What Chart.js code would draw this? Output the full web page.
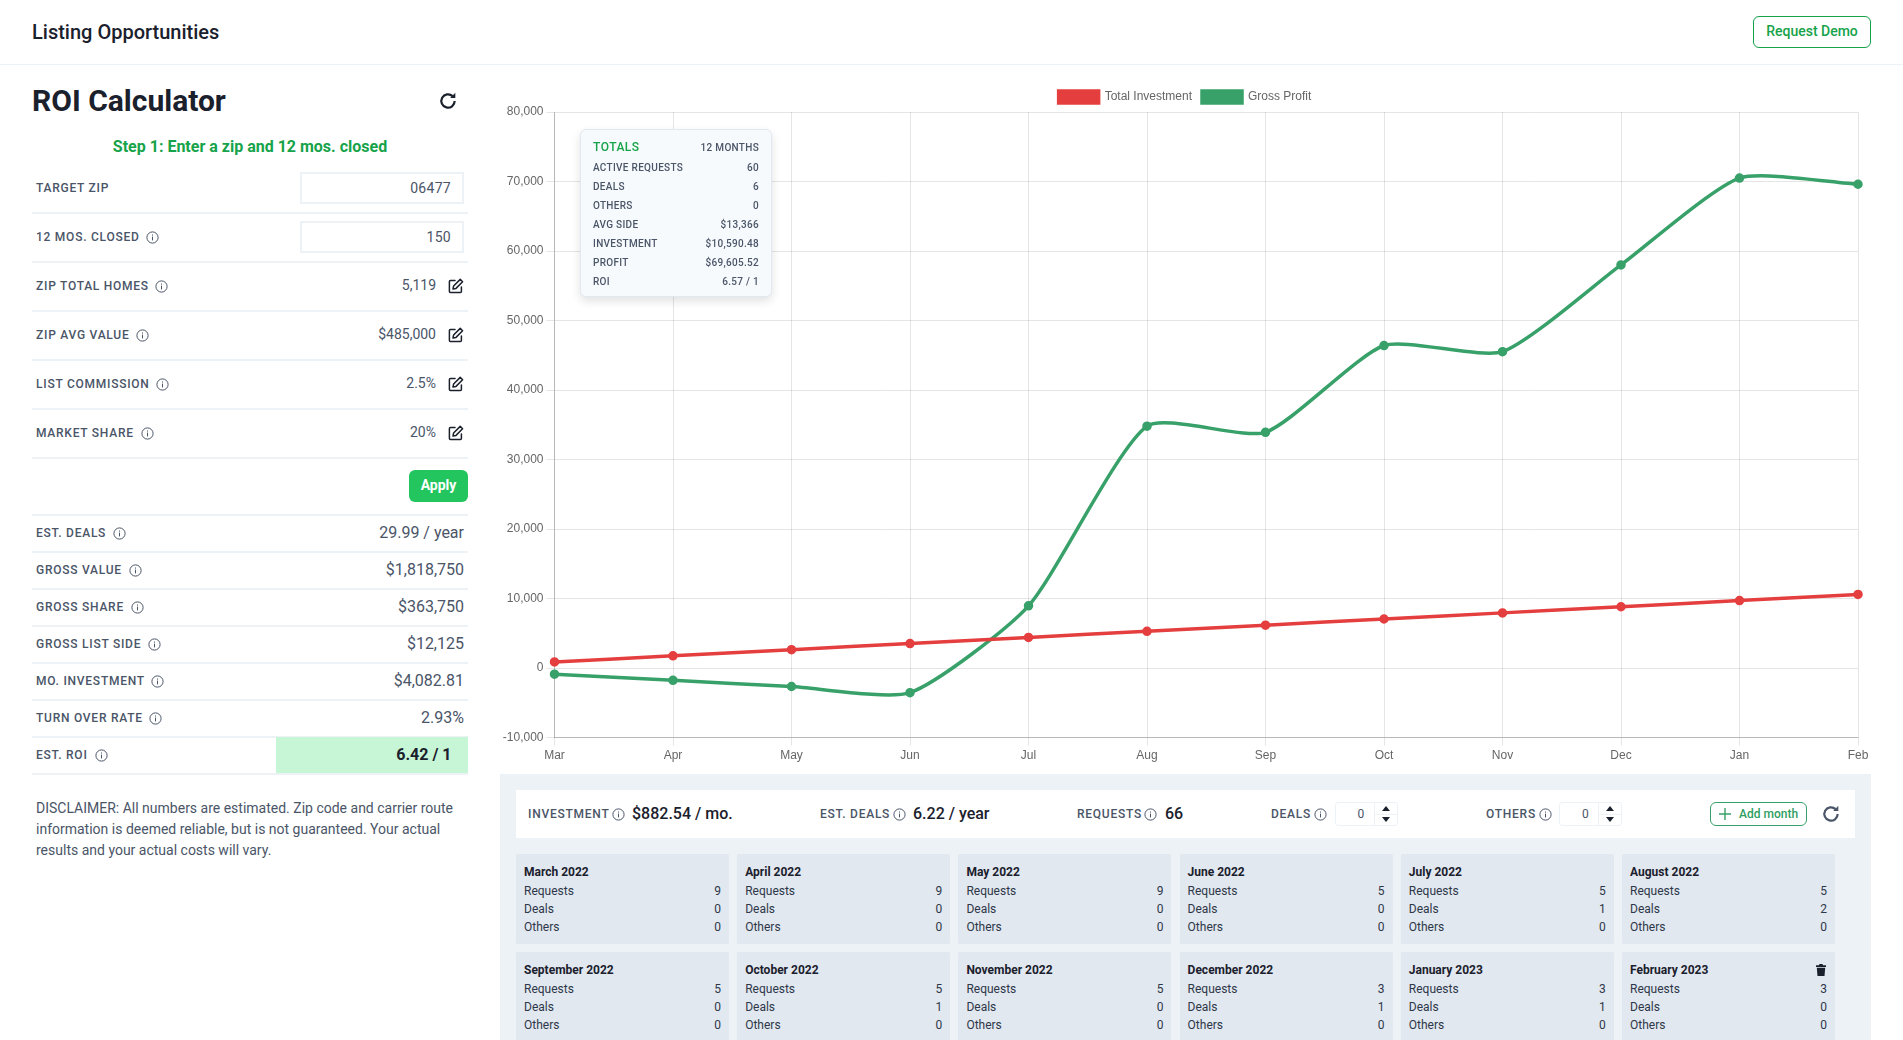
<!DOCTYPE html>
<html><head><meta charset="utf-8"><title>Listing Opportunities</title>
<script src="https://cdn.jsdelivr.net/npm/chart.js@4"></script>
<style>
html,body{margin:0;padding:0;background:#fff;width:1903px;height:1040px;overflow:hidden;font-family:Roboto,sans-serif;color:#4a5568}
.a{position:absolute;white-space:nowrap;line-height:1}
.ctr{transform:translateY(-50%)}
.lab{font-size:12px;font-weight:500;letter-spacing:.75px;color:#4a5568}
.sep{position:absolute;height:1.5px;background:#edf2f7}
.input{position:absolute;box-sizing:border-box;border:2px solid #edf2f7;background:#fff;left:300px;width:164px;height:32px;font-size:14px;color:#4a5568;text-align:right;padding:6px 11px 0 0;letter-spacing:.3px}
svg{position:absolute;display:block}
.card{position:absolute;width:213px;background:#e2e8f0;border-radius:2px;height:90px}
.spin{position:absolute;box-sizing:border-box;width:63px;height:24px;top:802px;border:1px solid #edf2f7;border-radius:3px;background:#fff}
</style></head><body>
<div id="ui"></div>
<div style="position:absolute;left:500px;top:80px;width:1383px;height:686px"><canvas id="c" role="img" aria-label="ROI line chart"></canvas></div>
<div id="ui2"></div>
<script>
const months=["Mar","Apr","May","Jun","Jul","Aug","Sep","Oct","Nov","Dec","Jan","Feb"];
const totalInvestment=[883,1765,2648,3530,4413,5295,6178,7060,7943,8825,9708,10590];
const grossProfit=[-883,-1765,-2648,-3530,8953,34803,33920,46404,45521,58005,70488,69606];
const cardMonths=["March 2022","April 2022","May 2022","June 2022","July 2022","August 2022","September 2022","October 2022","November 2022","December 2022","January 2023","February 2023"];
const cardRequests=[9,9,9,5,5,5,5,5,5,3,3,3];
const cardDeals=[0,0,0,0,1,2,0,1,0,1,1,0];
const cardOthers=[0,0,0,0,0,0,0,0,0,0,0,0];
const inputRows=[["TARGET ZIP","06477",false],["12 MOS. CLOSED","150",true]];
const editRows=[["ZIP TOTAL HOMES","5,119"],["ZIP AVG VALUE","$485,000"],["LIST COMMISSION","2.5%"],["MARKET SHARE","20%"]];
const resultRows=[["EST. DEALS","29.99 / year"],["GROSS VALUE","$1,818,750"],["GROSS SHARE","$363,750"],["GROSS LIST SIDE","$12,125"],["MO. INVESTMENT","$4,082.81"],["TURN OVER RATE","2.93%"]];
const totalsRows=[["ACTIVE REQUESTS","60"],["DEALS","6"],["OTHERS","0"],["AVG SIDE","$13,366"],["INVESTMENT","$10,590.48"],["PROFIT","$69,605.52"],["ROI","6.57 / 1"]];

let h='';
const info=(x,y)=>`<svg style="left:${x-6.5}px;top:${y-6.5}px" width="13" height="13" viewBox="0 0 13 13"><circle cx="6.5" cy="6.5" r="5.6" fill="none" stroke="#4a5568" stroke-width="1"/><rect x="6" y="5.6" width="1" height="3.8" fill="#4a5568"/><rect x="6" y="3.5" width="1" height="1.1" fill="#4a5568"/></svg>`;
const edit=(x,y)=>`<svg style="left:${x-8}px;top:${y-8}px" width="16" height="16" viewBox="0 0 16 16" fill="none" stroke="#1a202c" stroke-width="1.5" stroke-linejoin="round" stroke-linecap="round"><path d="M7 2.6H2.4a1 1 0 0 0-1 1v10a1 1 0 0 0 1 1h10a1 1 0 0 0 1-1V9"/><path d="M12.2 1.4l2.4 2.4-6.6 6.6-3 .6.6-3z"/></svg>`;
const refresh=(x,y,s,c)=>`<svg style="left:${x-s/2}px;top:${y-s/2}px" width="${s}" height="${s}" viewBox="0 0 18 18" fill="none" stroke="${c}" stroke-width="2"><path d="M15 9a6 6 0 1 1-1.9-4.4"/><path d="M15.6 1.6v4.6H11z" fill="${c}" stroke="none"/></svg>`;
const lab=(t,x,y)=>`<div class="a ctr lab" style="left:${x}px;top:${y}px">${t}</div>`;
const sep=(y)=>`<div class="sep" style="left:32px;width:436px;top:${y}px"></div>`;
const right=(t,r,y,st)=>`<div class="a ctr" style="right:${1903-r}px;top:${y}px;${st}">${t}</div>`;

// header
h+=`<div class="a ctr" style="left:32px;top:32px;font-size:20px;font-weight:500;color:#1a202c">Listing Opportunities</div>`;
h+=`<div style="position:absolute;left:0;right:0;top:64px;height:1px;background:#edf2f7"></div>`;
h+=`<div class="a" style="box-sizing:border-box;left:1753px;top:16px;width:118px;height:32px;border:1px solid #16a34a;border-radius:6px;text-align:center;line-height:29px;font-size:14px;font-weight:500;color:#16a34a">Request Demo</div>`;
// left
h+=`<div class="a ctr" style="left:32px;top:101px;font-size:30px;font-weight:700;color:#1a202c">ROI Calculator</div>`;
h+=refresh(448,101,20,'#1a202c');
h+=`<div class="a ctr" style="left:32px;width:436px;text-align:center;top:147px;font-size:16px;font-weight:700;color:#16a34a">Step 1: Enter a zip and 12 mos. closed</div>`;
const infoOff={"12 MOS. CLOSED":152,"ZIP TOTAL HOMES":161,"ZIP AVG VALUE":142,"LIST COMMISSION":162,"MARKET SHARE":147,"EST. DEALS":119,"GROSS VALUE":135,"GROSS SHARE":137,"GROSS LIST SIDE":154,"MO. INVESTMENT":157,"TURN OVER RATE":155,"EST. ROI":101};
inputRows.forEach((r,i)=>{const y=188+i*49;
 h+=lab(r[0],36,y);
 if(r[2])h+=info(infoOff[r[0]],y);
 h+=`<div class="input" style="top:${172+i*49}px">${r[1]}</div>`;
 h+=sep(212+i*49);
});
editRows.forEach((r,i)=>{const y=286+i*49;
 h+=lab(r[0],36,y);h+=info(infoOff[r[0]],y);
 h+=right(r[1],436,y-1,'font-size:14px;color:#4a5568');
 h+=edit(456,y);
 h+=sep(310+i*49);
});
h+=`<div class="a" style="left:409px;top:470px;width:59px;height:32px;border-radius:6px;background:#22c55e;color:#fff;font-size:14px;font-weight:700;text-align:center;line-height:30px">Apply</div>`;
h+=sep(514);
resultRows.forEach((r,i)=>{const y=533+i*37;
 h+=lab(r[0],36,y);h+=info(infoOff[r[0]],y);
 h+=right(r[1],464,y,'font-size:16px;color:#4a5568');
 h+=sep(551+i*37);
});
h+=`<div style="position:absolute;left:276px;width:192px;top:737px;height:36px;background:#c6f6d5"></div>`;
h+=lab("EST. ROI",36,755);h+=info(101,755);
h+=right("6.42 / 1",451.5,755,'font-size:16px;font-weight:700;color:#1a202c');
h+=sep(773);
h+=`<div style="position:absolute;left:36px;top:798px;width:430px;font-size:14px;line-height:21px;color:#4a5568">DISCLAIMER: All numbers are estimated. Zip code and carrier route<br>information is deemed reliable, but is not guaranteed. Your actual<br>results and your actual costs will vary.</div>`;
// bottom panel
h+=`<div style="position:absolute;left:500px;top:774px;width:1371px;height:266px;background:#edf2f7"></div>`;
h+=`<div style="position:absolute;left:516px;top:790px;width:1339px;height:48px;background:#fff"></div>`;
const bl=(t,x)=>`<div class="a ctr" style="left:${x}px;top:814px;font-size:12px;font-weight:500;letter-spacing:.75px;color:#4a5568">${t}</div>`;
const bv=(t,x)=>`<div class="a ctr" style="left:${x}px;top:814px;font-size:16px;font-weight:500;color:#1a202c">${t}</div>`;
h+=bl("INVESTMENT",528)+info(618,814)+bv("$882.54 / mo.",632);
h+=bl("EST. DEALS",820)+info(899,814)+bv("6.22 / year",913);
h+=bl("REQUESTS",1077)+info(1150.5,814)+bv("66",1165);
const spin=(x)=>`<div class="spin" style="left:${x}px"></div><div class="a ctr" style="left:${x+23}px;top:814px;font-size:12px;color:#4a5568">0</div><div style="position:absolute;left:${x+39}px;top:802px;width:1px;height:24px;background:#edf2f7"></div><div style="position:absolute;left:${x+39}px;top:814px;width:24px;height:1px;background:#edf2f7"></div><svg style="left:${x+45}px;top:804px" width="12" height="20" viewBox="0 0 12 20" fill="#1a202c"><path d="M6 2l4 5H2z"/><path d="M6 18l4-5H2z"/></svg>`;
h+=bl("DEALS",1271)+info(1320,814)+spin(1334.5);
h+=bl("OTHERS",1486)+info(1545,814)+spin(1559);
h+=`<div class="a" style="box-sizing:border-box;left:1710px;top:802px;width:97px;height:24px;border:1px solid #38a169;border-radius:6px;background:#fff"></div>`;
h+=`<svg style="left:1719px;top:808px" width="12" height="12" viewBox="0 0 12 12" stroke="#38a169" stroke-width="1.4"><path d="M6 0v12M0 6h12"/></svg>`;
h+=`<div class="a ctr" style="left:1739px;top:814px;font-size:12px;font-weight:500;color:#2f9e63">Add month</div>`;
h+=refresh(1831,814,20,'#4a5568');
// month cards
cardMonths.forEach((m,i)=>{
 const col=i%6,row=Math.floor(i/6);
 const x=516+col*221.2,y=854+row*98;
 h+=`<div class="card" style="left:${x}px;top:${y}px"></div>`;
 h+=`<div class="a ctr" style="left:${x+8}px;top:${y+18}px;font-size:12px;font-weight:700;color:#1a202c">${m}</div>`;
 [["Requests",cardRequests[i]],["Deals",cardDeals[i]],["Others",cardOthers[i]]].forEach((p,j)=>{
  const yy=y+37+j*18;
  h+=`<div class="a ctr" style="left:${x+8}px;top:${yy}px;font-size:12px;color:#2d3748">${p[0]}</div>`;
  h+=`<div class="a ctr" style="left:${x+150}px;width:${213-158}px;text-align:right;top:${yy}px;font-size:12px;color:#2d3748">${p[1]}</div>`;
 });
 if(i===11)h+=`<svg style="left:${x+193}px;top:${y+12}px" width="12" height="12" viewBox="0 0 12 12" fill="#1a202c"><path d="M4.5 0h3l.5 1.2H11V3H1V1.2h3zM1.8 3.8h8.4L9.5 12h-7z"/></svg>`;
});
document.getElementById('ui').innerHTML=h;

// totals overlay
let t=`<div style="position:absolute;box-sizing:border-box;left:580px;top:129px;width:192px;height:168px;background:#f7fafc;border:1px solid #e2e8f0;border-radius:6px;box-shadow:0 4px 10px rgba(0,0,0,.12)"></div>`;
t+=`<div class="a ctr" style="left:593px;top:147px;font-size:12px;font-weight:500;letter-spacing:.5px;color:#16a34a">TOTALS</div>`;
t+=right("12 MONTHS",759,148,'font-size:10px;font-weight:500;letter-spacing:.3px;color:#4a5568');
totalsRows.forEach((r,i)=>{const y=167.5+i*19;
 t+=`<div class="a ctr" style="left:593px;top:${y}px;font-size:10px;font-weight:500;letter-spacing:.3px;color:#4a5568">${r[0]}</div>`;
 t+=right(r[1],759,y,'font-size:10px;font-weight:500;letter-spacing:.3px;color:#4a5568');
});
document.getElementById('ui2').innerHTML=t;

const tickFont={family:"'Liberation Sans',Arial,sans-serif",size:12};
const nudgeLegend={id:'nudgeLegend',afterLayout(chart){
 const l=chart.legend;
 if(l){l.left+=6;l.right+=6;l.top+=1;l.bottom+=1;}
}};
new Chart(document.getElementById('c'),{
 type:'line',
 plugins:[nudgeLegend],
 data:{labels:months,datasets:[
  {label:'Total Investment',data:totalInvestment,borderColor:'#e53e3e',backgroundColor:'#e53e3e',borderWidth:3.5,pointRadius:3,pointBackgroundColor:'#e53e3e',tension:.2,fill:false},
  {label:'Gross Profit',data:grossProfit,borderColor:'#38a169',backgroundColor:'#38a169',borderWidth:3.5,pointRadius:3,pointBackgroundColor:'#38a169',tension:.2,fill:false}
 ]},
 options:{responsive:true,maintainAspectRatio:false,animation:false,
  layout:{padding:{left:0,right:25,top:0,bottom:0}},
  plugins:{tooltip:{enabled:false},
   legend:{position:'top',labels:{boxWidth:40,boxHeight:12,color:'#666',font:tickFont,padding:10}}},
  scales:{
   x:{grid:{color:'rgba(0,0,0,.1)',tickLength:8},border:{color:'rgba(0,0,0,.2)'},ticks:{color:'#666',font:tickFont,maxRotation:0,autoSkip:false,padding:3}},
   y:{min:-10000,max:80000,grid:{color:'rgba(0,0,0,.1)',tickLength:8},border:{color:'rgba(0,0,0,.2)'},
      ticks:{color:'#666',font:tickFont,stepSize:10000,padding:3,callback:v=>v.toLocaleString('en-US')},
      afterFit:s=>{s.width=54.5}}
  }}
});
</script></body></html>
